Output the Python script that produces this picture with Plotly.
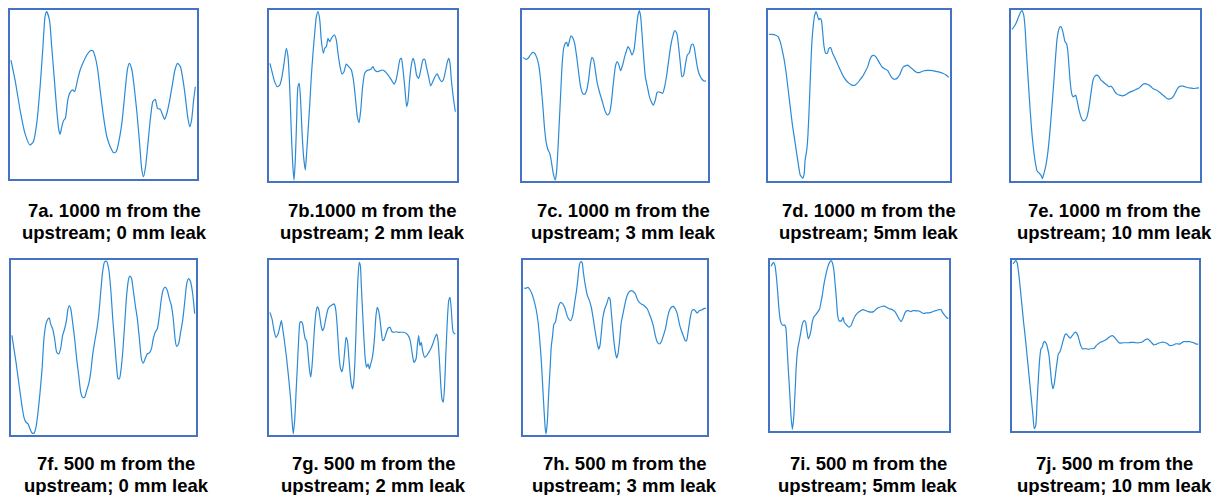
import plotly.graph_objects as go

W, H = 1213, 495

# ---------------- data (time in % of window, amplitude in % of panel range) -------------
t_7a = [0.5, 2.7, 5.4, 8.0, 10.7, 12.5, 14.3, 16.1, 17.5, 18.75, 19.6, 21.1, 22.3, 23.6, 25.0, 26.1, 26.8, 27.7, 28.6, 29.6,
        30.9, 32.1, 33.6, 34.6, 36.1, 37.5, 39.3, 41.1, 42.9, 44.3, 45.5, 46.8, 48.2, 50.0, 51.8, 53.6, 55.4, 56.8, 58.0,
        59.8, 61.6, 62.9, 63.9, 65.2, 66.4, 67.9, 69.3, 70.5, 71.4, 72.5, 73.6, 75.0, 76.4, 77.7, 78.9, 80.4, 81.6, 82.7,
        83.9, 85.4, 86.8, 88.2, 89.6, 91.1, 92.5, 93.75, 95.0, 96.1, 97.1, 98.2, 99.1]
a_7a = [70.4, 58.6, 40.8, 27.0, 20.1, 22.1, 32.9, 54.6, 76.3, 96.1, 99.0, 94.1, 78.3, 60.6, 40.8, 29.0, 26.4, 31.0, 34.5, 35.9,
        46.7, 51.1, 52.7, 51.7, 58.6, 64.5, 69.4, 73.4, 75.9, 75.9, 72.4, 65.5, 52.7, 36.9, 25.0, 19.1, 15.6, 16.2, 21.1,
        32.9, 52.7, 65.5, 68.4, 64.5, 54.6, 38.9, 21.1, 5.3, 1.4, 7.3, 19.1, 34.9, 45.8, 47.1, 41.8, 41.2, 37.9, 35.3,
        38.9, 46.7, 55.6, 64.5, 68.4, 66.5, 58.6, 48.7, 36.9, 31.0, 34.9, 46.7, 54.6]

t_7b = [0.5, 1.6, 3.0, 4.4, 5.7, 6.9, 8.0, 9.2, 10.1, 11.0, 11.9, 12.6, 13.3, 14.0, 14.7, 15.4, 16.1, 16.8, 17.6, 18.4,
        19.3, 20.0, 20.7, 21.6, 22.5, 23.4, 24.3, 25.2, 26.1, 27.0, 27.8, 28.9, 29.6, 30.5, 31.4, 32.3, 33.5, 34.9, 35.8,
        36.7, 37.8, 38.8, 39.9, 41.1, 42.4, 43.8, 44.9, 45.9, 47.0, 47.9, 48.8, 49.8, 50.9, 52.0, 53.0, 54.1, 55.3, 56.2,
        57.6, 59.0, 60.5, 61.9, 63.3, 65.1, 66.5, 67.6, 68.6, 69.7, 70.4, 71.1, 72.2, 73.2, 73.9, 74.8, 75.7, 76.6, 77.5,
        78.5, 79.6, 80.7, 81.9, 82.8, 83.7, 84.9, 86.0, 87.1, 88.5, 89.5, 90.6, 91.7, 92.7, 93.8, 94.9, 95.6, 96.3, 97.0,
        98.0, 99.1]
a_7b = [68.8, 63.9, 58.1, 55.2, 56.1, 61.0, 68.8, 77.6, 72.7, 55.2, 27.9, 10.3, 0.6, 12.3, 35.7, 55.2, 57.1, 47.4, 27.9, 14.2,
        6.4, 16.2, 27.9, 43.5, 61.0, 74.7, 86.4, 96.1, 99.0, 94.2, 82.5, 74.7, 77.6, 78.6, 83.4, 81.5, 84.0, 85.4, 82.5,
        74.7, 66.9, 62.6, 63.9, 68.4, 66.9, 64.9, 59.1, 49.3, 37.6, 34.1, 41.5, 55.2, 63.0, 64.5, 64.9, 65.3, 66.9, 64.9,
        63.9, 64.5, 64.9, 63.9, 62.0, 59.1, 56.7, 59.1, 64.9, 71.2, 71.7, 66.9, 55.2, 43.5, 46.4, 59.1, 67.8, 71.7, 68.8,
        62.0, 60.0, 64.9, 70.8, 71.2, 66.9, 61.0, 55.6, 58.1, 61.4, 62.6, 60.0, 58.1, 59.1, 63.9, 69.8, 71.7, 68.8, 59.1,
        49.3, 40.5]

t_7c = [0.5, 1.8, 3.2, 4.5, 5.7, 6.8, 7.9, 9.0, 10.0, 11.1, 12.2, 13.1, 14.0, 14.9, 15.8, 16.8, 17.9, 18.6, 19.4, 20.1,
        20.8, 21.5, 22.4, 23.3, 24.0, 24.7, 25.4, 26.3, 27.2, 28.3, 29.4, 30.5, 31.5, 32.6, 33.7, 34.8, 35.8, 36.7, 37.6,
        38.5, 39.4, 40.5, 41.6, 42.7, 43.7, 44.8, 45.9, 47.0, 48.0, 49.1, 50.2, 51.1, 52.0, 53.0, 54.1, 55.2, 56.3, 57.0,
        58.1, 59.1, 60.2, 60.9, 61.6, 62.4, 63.1, 63.8, 64.5, 65.4, 66.3, 67.4, 68.5, 69.5, 70.6, 71.7, 72.6, 73.5, 74.6,
        75.6, 76.7, 77.8, 78.9, 79.9, 81.0, 82.1, 83.2, 84.2, 85.3, 86.0, 86.9, 87.8, 88.9, 90.0, 91.0, 91.8, 92.5, 93.5,
        94.6, 95.7, 96.8, 97.8, 98.9]
a_7c = [72.3, 71.3, 71.7, 73.7, 75.2, 74.7, 72.3, 67.8, 59.1, 45.4, 29.8, 22.0, 18.1, 16.2, 11.3, 4.5, 0.6, 5.5, 20.1, 35.7,
        51.3, 66.9, 77.6, 80.5, 81.1, 78.6, 81.5, 84.8, 84.0, 80.5, 72.7, 63.0, 55.2, 51.3, 50.7, 53.2, 59.1, 67.8, 72.3,
        70.8, 64.9, 57.1, 52.2, 48.3, 44.4, 40.5, 38.6, 39.6, 45.4, 57.1, 66.9, 69.8, 68.2, 64.5, 67.8, 72.7, 76.6, 78.6,
        76.6, 73.7, 76.6, 82.5, 90.3, 97.1, 99.6, 96.1, 86.4, 72.7, 61.0, 55.2, 49.3, 46.4, 44.4, 47.4, 51.7, 52.2, 51.7,
        51.3, 55.2, 62.0, 70.8, 78.6, 84.4, 87.9, 86.4, 78.6, 66.9, 61.0, 62.0, 67.8, 73.7, 75.0, 79.5, 80.1, 78.6, 71.7,
        64.9, 61.4, 59.5, 58.5, 58.5]

t_7d = [0.5, 2.2, 4.0, 5.5, 6.7, 7.8, 8.9, 10.0, 11.1, 12.2, 13.3, 14.4, 15.5, 16.6, 17.7, 18.4, 19.1, 19.9, 20.4, 21.3,
        22.0, 22.8, 23.5, 24.2, 25.0, 25.7, 26.4, 27.1, 27.9, 28.6, 29.3, 30.1, 30.8, 31.7, 32.6, 33.5, 34.4, 35.5, 36.6,
        37.7, 38.8, 39.9, 41.0, 42.1, 43.2, 44.6, 46.1, 47.5, 49.0, 50.5, 51.9, 53.4, 54.8, 55.9, 57.0, 58.1, 59.2, 60.3,
        61.4, 62.5, 63.6, 64.7, 65.8, 66.8, 67.9, 69.0, 70.1, 71.2, 72.3, 73.4, 74.5, 75.6, 76.7, 77.8, 78.9, 80.0, 81.1,
        82.1, 83.2, 84.3, 85.8, 87.2, 88.7, 90.5, 92.3, 94.2, 96.0, 97.8, 99.3]
a_7d = [85.8, 85.8, 85.4, 84.4, 81.5, 76.6, 70.8, 63.0, 53.2, 43.5, 33.7, 25.9, 18.1, 10.3, 3.5, 2.5, 1.6, 4.5, 12.3, 18.1,
        27.9, 47.4, 66.9, 82.5, 92.2, 97.1, 99.0, 97.1, 94.2, 95.1, 94.2, 86.4, 78.6, 74.7, 74.7, 77.6, 78.0, 74.7, 72.3,
        69.8, 66.9, 64.5, 62.0, 60.0, 58.5, 57.1, 56.1, 55.9, 57.1, 59.1, 61.0, 63.9, 66.9, 70.8, 73.1, 73.5, 72.7, 70.8,
        68.8, 66.9, 65.9, 65.3, 64.5, 62.6, 60.6, 59.6, 59.6, 60.4, 62.0, 64.9, 66.9, 67.4, 67.8, 66.9, 65.9, 64.9, 63.9,
        63.4, 63.4, 63.9, 64.5, 64.7, 64.7, 64.5, 64.1, 63.7, 63.0, 62.0, 60.6]

t_7e = [0.5, 1.6, 2.8, 3.9, 4.9, 5.8, 6.7, 7.4, 8.1, 9.0, 9.9, 10.8, 11.6, 12.7, 13.8, 14.8, 15.9, 16.6, 17.3, 18.3,
        19.4, 20.5, 21.5, 22.6, 23.6, 24.3, 25.0, 25.7, 26.5, 27.2, 27.9, 28.6, 29.3, 30.0, 30.7, 31.4, 32.1, 32.8, 33.5,
        34.2, 34.9, 36.0, 37.0, 38.1, 39.2, 40.2, 41.3, 42.3, 43.4, 44.4, 45.5, 46.6, 47.6, 48.7, 49.7, 50.8, 51.9, 52.9,
        54.0, 55.0, 56.1, 57.5, 58.9, 60.3, 61.7, 63.1, 64.6, 66.0, 67.4, 68.8, 69.8, 70.9, 72.0, 73.0, 74.1, 75.1, 76.2,
        77.2, 78.3, 79.4, 80.4, 81.5, 82.5, 83.6, 84.7, 85.7, 86.8, 87.8, 88.9, 89.9, 91.0, 92.1, 93.1, 94.2, 95.2, 96.6,
        98.1, 99.5]
a_7e = [88.7, 90.2, 92.6, 95.7, 98.4, 99.6, 97.1, 90.2, 76.6, 60.9, 45.3, 31.6, 21.9, 12.1, 5.9, 4.7, 3.3, 1.4, 3.9, 8.2,
        16.0, 27.7, 41.4, 57.0, 72.7, 82.4, 87.3, 89.8, 90.2, 88.3, 84.8, 81.4, 80.5, 76.6, 66.8, 57.0, 51.2, 49.2, 49.6,
        50.2, 47.3, 41.4, 37.5, 35.2, 35.5, 37.5, 43.4, 51.2, 59.0, 61.3, 61.9, 60.9, 59.0, 58.0, 57.0, 56.1, 55.1, 55.5,
        54.1, 52.1, 50.8, 50.2, 49.8, 50.2, 51.2, 52.1, 52.7, 53.5, 54.1, 55.5, 56.6, 57.0, 56.6, 56.1, 55.1, 54.1, 53.5,
        53.1, 52.1, 51.2, 50.2, 49.2, 48.2, 47.9, 48.2, 49.2, 51.2, 53.5, 55.1, 55.5, 55.5, 55.1, 54.7, 54.5, 54.3, 54.1,
        54.3, 54.5]

t_7f = [0.5, 1.6, 2.7, 3.8, 4.9, 5.9, 7.0, 8.1, 9.2, 10.3, 11.4, 12.4, 13.5, 14.6, 15.7, 16.8, 17.8, 18.9, 20.0, 20.7,
        21.4, 22.5, 23.6, 24.7, 25.8, 26.8, 27.9, 29.0, 30.1, 30.8, 31.5, 32.3, 33.3, 34.4, 35.5, 36.6, 37.7, 38.7, 39.8,
        40.9, 42.0, 43.1, 44.1, 45.2, 46.3, 47.4, 48.5, 49.5, 50.6, 51.7, 52.8, 53.9, 55.0, 56.0, 57.1, 57.8, 58.6, 59.3,
        60.4, 61.4, 62.5, 63.6, 64.3, 65.2, 66.1, 67.2, 68.3, 69.4, 70.5, 71.5, 72.6, 73.7, 74.8, 75.9, 76.9, 78.0, 79.1,
        80.2, 81.3, 82.3, 83.4, 84.5, 85.6, 86.7, 87.7, 88.8, 89.5, 90.6, 91.7, 92.8, 93.9, 95.0, 96.0, 97.1, 98.2, 99.3]
a_7f = [56.9, 49.2, 41.6, 33.0, 24.4, 16.8, 10.1, 7.3, 6.3, 3.4, 1.1, 1.0, 4.4, 13.0, 24.4, 37.8, 55.0, 63.5, 66.4, 66.8,
        63.5, 60.7, 55.0, 47.3, 46.4, 49.2, 56.9, 60.7, 66.4, 72.1, 74.0, 72.1, 64.5, 55.0, 43.5, 34.0, 24.4, 21.6, 21.6,
        25.4, 29.2, 35.9, 45.4, 53.1, 59.7, 68.3, 81.7, 93.1, 98.9, 99.2, 95.0, 83.6, 66.4, 53.1, 38.7, 32.4, 32.1, 35.9,
        47.3, 62.6, 79.8, 89.3, 90.8, 89.3, 82.6, 74.0, 66.4, 55.0, 43.5, 41.0, 43.9, 46.4, 46.9, 49.2, 55.0, 58.8, 60.7,
        68.3, 77.9, 83.2, 84.5, 82.6, 77.9, 74.0, 66.4, 54.0, 50.6, 52.1, 58.8, 65.5, 76.0, 86.5, 89.3, 87.4, 80.7, 69.3]

t_7g = [0.5, 1.6, 2.7, 3.7, 4.8, 5.9, 6.6, 7.3, 8.3, 9.4, 10.5, 11.5, 12.2, 12.9, 13.7, 14.4, 15.1, 15.8, 16.5, 17.2,
        17.9, 18.6, 19.3, 20.0, 20.7, 21.5, 22.2, 22.9, 23.6, 24.3, 25.0, 25.7, 26.4, 27.1, 27.8, 28.5, 29.3, 30.0, 30.7,
        31.4, 32.4, 33.5, 34.6, 35.3, 36.0, 36.7, 37.4, 38.1, 38.8, 39.5, 40.2, 41.0, 41.7, 42.4, 43.1, 43.8, 44.5, 45.2,
        45.9, 46.6, 47.3, 48.0, 48.6, 49.1, 49.8, 50.5, 51.2, 51.9, 52.7, 53.4, 54.1, 54.8, 55.5, 56.2, 56.9, 57.6, 58.3,
        59.0, 59.8, 60.5, 61.2, 62.2, 63.3, 64.4, 65.4, 66.5, 67.6, 68.6, 70.0, 71.5, 72.9, 73.9, 75.0, 76.1, 77.1, 78.2,
        78.9, 79.6, 80.3, 81.0, 81.7, 82.8, 83.9, 84.9, 86.0, 87.1, 88.1, 89.2, 89.9, 90.6, 91.3, 92.0, 92.7, 93.4, 94.1,
        94.9, 95.6, 96.3, 97.0, 98.0, 99.1]
a_7g = [70.1, 66.3, 59.6, 55.8, 57.7, 62.5, 65.3, 60.6, 53.0, 43.4, 32.0, 20.6, 9.1, 0.6, 9.1, 24.4, 39.6, 54.9, 64.4, 64.8,
        63.4, 58.7, 54.9, 53.9, 47.2, 37.7, 33.0, 39.6, 51.0, 62.5, 70.1, 73.3, 72.0, 67.2, 62.1, 59.6, 61.5, 65.3, 69.1,
        72.0, 73.5, 74.3, 74.9, 73.0, 66.3, 54.9, 43.4, 37.7, 36.2, 39.6, 47.2, 55.8, 53.9, 45.3, 35.8, 29.1, 26.3, 32.0,
        47.2, 70.1, 89.1, 98.7, 96.8, 85.3, 70.1, 54.9, 43.4, 38.7, 40.6, 37.7, 40.6, 43.4, 48.2, 56.8, 68.2, 73.0, 71.0,
        66.3, 58.7, 53.9, 54.5, 57.7, 61.0, 61.5, 59.0, 58.7, 59.0, 58.7, 58.7, 58.7, 58.1, 57.1, 54.5, 47.2, 41.5, 43.4,
        51.0, 56.8, 51.0, 53.0, 48.2, 44.4, 45.3, 47.2, 49.1, 52.0, 55.2, 57.7, 53.9, 43.4, 30.1, 20.6, 18.7, 28.2, 47.2,
        66.3, 76.8, 78.7, 71.0, 58.7, 57.7]

t_7h = [0.5, 1.6, 2.7, 3.8, 4.9, 6.0, 7.1, 8.2, 9.2, 10.0, 10.7, 11.4, 12.1, 12.5, 13.2, 13.9, 14.7, 15.4, 16.1, 16.8,
        17.6, 18.3, 19.4, 20.5, 21.6, 22.6, 23.7, 24.8, 25.9, 27.0, 28.1, 29.2, 29.9, 30.6, 31.3, 32.1, 32.8, 33.9, 35.0,
        36.1, 37.1, 38.2, 39.3, 40.4, 41.1, 41.8, 42.6, 43.3, 44.4, 45.5, 46.6, 47.3, 48.0, 49.1, 50.2, 50.9, 51.6, 52.4,
        53.4, 54.5, 55.6, 56.7, 57.8, 58.9, 60.0, 61.1, 62.1, 63.2, 64.3, 65.4, 66.5, 67.6, 68.7, 69.7, 70.8, 71.9, 73.0,
        74.1, 75.2, 76.3, 77.4, 78.4, 79.5, 80.6, 81.7, 82.8, 83.9, 85.0, 86.1, 87.1, 88.2, 88.9, 89.7, 90.8, 91.8, 92.9,
        94.0, 94.7, 95.8, 97.3, 98.7, 99.5]
a_7h = [84.0, 83.8, 84.4, 83.0, 80.6, 76.8, 72.0, 64.4, 53.0, 41.5, 28.2, 14.9, 3.4, 0.6, 7.2, 22.5, 37.7, 51.0, 56.8, 63.4,
        64.4, 68.2, 73.9, 75.8, 74.9, 73.0, 69.1, 66.3, 65.3, 68.2, 75.8, 83.4, 90.1, 96.8, 99.0, 98.7, 93.0, 85.3, 79.6,
        76.8, 73.0, 66.3, 58.7, 52.0, 49.1, 51.0, 58.7, 66.3, 72.0, 74.9, 78.7, 77.7, 70.1, 56.8, 47.2, 44.0, 46.3, 53.0,
        64.4, 70.1, 75.8, 80.0, 81.9, 82.5, 81.9, 80.6, 77.7, 75.8, 74.9, 74.3, 73.3, 72.0, 69.1, 66.3, 62.5, 56.8, 53.0,
        52.0, 53.3, 56.8, 60.6, 66.3, 71.0, 73.0, 73.5, 72.0, 69.1, 63.4, 59.6, 56.8, 53.9, 53.9, 58.7, 66.3, 71.0, 71.6,
        70.5, 69.7, 71.0, 71.6, 72.4, 72.4]

t_7i = [0.6, 1.3, 2.0, 2.8, 3.5, 4.3, 5.0, 5.8, 6.5, 7.3, 8.0, 8.8, 9.5, 10.2, 11.0, 11.7, 12.5, 13.2, 14.0, 14.7,
        15.5, 16.2, 16.9, 17.7, 18.4, 19.2, 19.9, 20.7, 21.4, 22.2, 22.9, 23.6, 24.4, 25.5, 26.6, 27.7, 28.5, 29.2, 30.0,
        31.1, 32.2, 33.3, 34.1, 34.8, 35.6, 36.3, 37.1, 37.8, 38.5, 39.3, 40.0, 40.8, 41.5, 42.3, 43.0, 44.1, 45.3, 46.4,
        47.5, 49.0, 50.5, 52.0, 53.4, 54.9, 56.4, 57.9, 59.4, 60.9, 62.4, 63.9, 65.4, 66.9, 68.3, 69.8, 70.9, 72.1, 73.2,
        74.3, 75.4, 76.5, 77.7, 78.8, 79.9, 81.0, 82.1, 83.2, 84.4, 85.8, 87.3, 88.8, 90.3, 91.8, 93.3, 94.4, 95.5, 96.3,
        97.4, 98.5, 99.6]
a_7i = [96.3, 97.7, 98.6, 96.7, 90.9, 81.1, 71.4, 64.6, 62.6, 61.7, 62.1, 60.7, 50.0, 36.4, 22.8, 9.1, 1.0, 7.2, 22.8, 38.3,
        48.1, 51.9, 55.8, 60.7, 63.6, 64.6, 63.6, 57.8, 53.9, 55.8, 58.8, 63.6, 66.5, 67.9, 69.5, 71.4, 75.3, 79.2, 85.0,
        90.9, 95.7, 98.6, 99.6, 98.6, 94.7, 87.0, 77.2, 67.5, 64.6, 64.2, 64.6, 66.5, 63.6, 62.6, 61.7, 60.7, 61.7, 64.6,
        67.1, 69.1, 70.2, 71.0, 70.4, 69.8, 69.5, 69.8, 71.4, 72.2, 72.8, 73.0, 72.2, 71.4, 71.0, 69.8, 67.9, 65.6, 64.0,
        66.0, 69.1, 70.4, 70.2, 69.8, 70.4, 70.4, 70.2, 70.2, 69.5, 68.7, 69.1, 69.1, 69.5, 70.2, 70.6, 71.0, 71.0, 69.5,
        67.9, 66.5, 65.6]

t_7j = [0.5, 1.2, 2.0, 2.7, 3.4, 4.1, 4.8, 5.5, 6.2, 7.0, 7.7, 8.4, 9.1, 9.8, 10.5, 11.2, 11.9, 12.7, 13.4, 14.1,
        14.8, 15.5, 16.2, 16.9, 17.6, 18.4, 19.1, 19.8, 20.5, 21.2, 21.9, 22.6, 23.4, 24.1, 24.8, 25.5, 26.2, 26.9, 27.6,
        28.3, 29.1, 29.8, 30.5, 31.2, 31.9, 32.6, 33.3, 34.0, 34.8, 35.5, 36.2, 36.9, 37.6, 38.7, 39.8, 40.8, 41.9, 43.0,
        44.0, 45.1, 46.2, 47.2, 48.3, 49.4, 50.4, 51.5, 52.6, 53.7, 54.7, 55.8, 56.9, 57.9, 59.4, 60.8, 62.2, 63.6, 65.1,
        66.5, 67.9, 69.3, 70.4, 71.5, 72.5, 73.6, 74.7, 75.8, 76.8, 77.9, 79.0, 80.0, 81.1, 82.2, 83.2, 84.3, 85.4, 86.5,
        87.5, 88.6, 89.7, 90.7, 91.8, 92.9, 93.9, 95.0, 96.1, 97.2, 98.6, 99.6]
a_7j = [97.7, 98.6, 99.6, 98.6, 93.8, 87.0, 79.2, 71.4, 63.6, 55.8, 48.1, 40.3, 32.5, 24.7, 16.9, 9.1, 1.4, 3.3, 16.9, 30.5,
        42.2, 48.1, 49.0, 51.9, 52.3, 51.0, 48.1, 44.2, 36.4, 28.6, 24.7, 27.6, 34.4, 40.3, 45.1, 46.1, 48.1, 51.0, 53.9,
        56.2, 56.8, 55.8, 54.9, 54.3, 55.4, 56.2, 57.4, 57.8, 56.8, 54.9, 51.9, 49.6, 48.1, 48.1, 48.1, 47.7, 48.1, 48.1,
        48.4, 50.0, 51.0, 51.9, 52.3, 52.9, 53.5, 54.5, 55.4, 55.8, 54.9, 53.5, 51.9, 51.4, 51.6, 51.6, 51.6, 51.8, 51.8,
        51.6, 51.6, 51.9, 52.7, 53.5, 53.9, 52.9, 51.6, 50.4, 50.6, 51.2, 51.6, 51.9, 51.9, 51.6, 51.0, 50.0, 50.0, 50.4,
        51.0, 51.0, 50.8, 51.6, 52.3, 52.3, 52.3, 52.3, 51.9, 51.6, 50.8, 50.8]

panel_names = ["7a", "7b", "7c", "7d", "7e", "7f", "7g", "7h", "7i", "7j"]
caption_line1 = ["7a. 1000 m from the", "7b.1000 m from the", "7c. 1000 m from the", "7d. 1000 m from the",
                 "7e. 1000 m from the", "7f. 500 m from the", "7g. 500 m from the", "7h. 500 m from the",
                 "7i. 500 m from the", "7j. 500 m from the"]
caption_line2 = ["upstream; 0 mm leak", "upstream; 2 mm leak", "upstream; 3 mm leak", "upstream; 5mm leak",
                 "upstream; 10 mm leak", "upstream; 0 mm leak", "upstream; 2 mm leak", "upstream; 3 mm leak",
                 "upstream; 5mm leak", "upstream; 10 mm leak"]

series_t = [t_7a, t_7b, t_7c, t_7d, t_7e, t_7f, t_7g, t_7h, t_7i, t_7j]
series_a = [a_7a, a_7b, a_7c, a_7d, a_7e, a_7f, a_7g, a_7h, a_7i, a_7j]

# ---------------- layout (pixel boxes of the panels, caption centres) -------------
boxes = [(10, 197, 10, 179), (269, 457, 10, 181), (522, 708, 10, 181), (768, 950, 10, 181), (1011, 1200, 10, 181),
         (11, 196, 260, 435), (269, 457, 260, 435), (523, 707, 260, 435), (770, 949, 260, 431), (1012, 1199, 260, 431)]
cap_x = [114, 372, 623, 869, 1114, 116, 373, 624, 868, 1114]
cap_y1 = [210, 210, 210, 210, 210, 463, 463, 463, 463, 463]
cap_y2 = [232, 232, 232, 232, 232, 485, 485, 485, 485, 485]

LINE_COLOR = "#2b8ad6"
BOX_COLOR = "#4472c4"
FONT = "Liberation Sans, Arial, sans-serif"

fig = go.Figure()
layout = {}
annotations = []
for i, name in enumerate(panel_names):
    n = "" if i == 0 else str(i + 1)
    fig.add_trace(go.Scatter(
        x=series_t[i], y=series_a[i], mode="lines", name=name,
        line=dict(color=LINE_COLOR, width=1.2, shape="spline", smoothing=0.6),
        xaxis="x" + n, yaxis="y" + n, hoverinfo="skip", showlegend=False))
    x0, x1, y0, y1 = boxes[i]
    common = dict(showline=True, mirror=True, linecolor=BOX_COLOR, linewidth=2, showgrid=False,
                  zeroline=False, showticklabels=False, ticks="", fixedrange=True)
    layout["xaxis" + n] = dict(domain=[x0 / W, x1 / W], range=[0, 100], anchor="y" + n, **common)
    layout["yaxis" + n] = dict(domain=[1 - y1 / H, 1 - y0 / H], range=[0, 100], anchor="x" + n, **common)
    for txt, yy in ((caption_line1[i], cap_y1[i]), (caption_line2[i], cap_y2[i])):
        annotations.append(dict(text="<b>" + txt + "</b>", x=cap_x[i] / W, y=1 - yy / H, xref="paper", yref="paper",
                                xanchor="center", yanchor="middle", showarrow=False,
                                font=dict(family=FONT, size=18.5, color="#000000")))

fig.update_layout(**layout)
fig.update_layout(width=W, height=H, margin=dict(l=0, r=0, t=0, b=0), paper_bgcolor="white",
                  plot_bgcolor="white", annotations=annotations, showlegend=False)
fig.write_html("out.html", include_plotlyjs=True, full_html=True,
               config=dict(displayModeBar=False, responsive=False))
